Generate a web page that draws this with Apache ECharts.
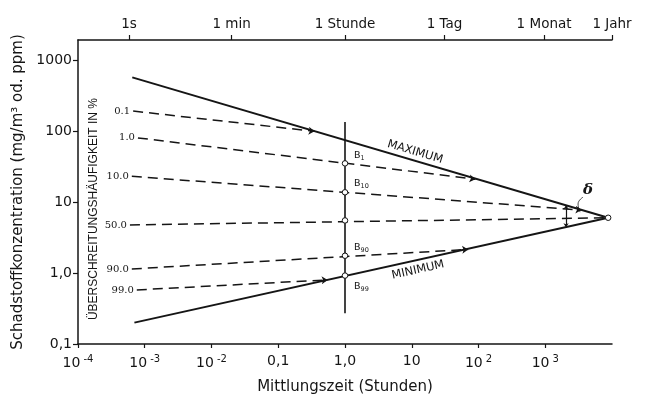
<!DOCTYPE html>
<html><head><meta charset="utf-8">
<script src="https://cdn.jsdelivr.net/npm/echarts@6.0.0/dist/echarts.min.js"></script>
<style>html,body{margin:0;padding:0;background:#fff}#c{width:648px;height:403px}</style>
</head><body><div id="c"></div>
<script>
// ---- tick values / labels ----
const xTicks = [1e-4, 1e-3, 1e-2, 0.1, 1, 10, 100, 1000];
const xTickLabels = ['10{s|-4}', '10{s|-3}', '10{s|-2}', '0,1', '1,0', '10', '10{s|2}', '10{s|3}'];
const yTicks = [0.1, 1, 10, 100, 1000];
const yTickLabels = ['0,1', '1,0', '10', '100', '1000'];
const topTicks = [5.8e-4, 0.02, 1, 31, 960, 10000];
const topTickLabels = ['1s', '1 min', '1 Stunde', '1 Tag', '1 Monat', '1 Jahr'];

// ---- envelope lines ----
const maximumLine = [[6.5e-4, 570], [8760, 6]];
const minimumLine = [[7e-4, 0.2], [8760, 6]];
const hourLine = [[1, 0.27], [1, 134]];

// ---- exceedance-frequency lines (percent) ----
const pctNames = ['0.1', '1.0', '10.0', '50.0', '90.0', '99.0'];
const pctLines = [
  [[6.7e-4, 191], [0.35, 99]],
  [[7.9e-4, 80], [90, 21]],
  [[6.4e-4, 23], [3500, 7.7]],
  [[6.0e-4, 4.75], [8760, 6]],
  [[6.4e-4, 1.14], [70, 2.15]],
  [[7.6e-4, 0.577], [0.55, 0.80]]
];
const pctArrow = [true, true, true, false, true, true];

// ---- points on the 1-hour line and convergence ----
const bPoints = [[1, 35], [1, 13.7], [1, 5.5], [1, 1.75], [1, 0.92], [8760, 6]];
const bLabels = [
  {pos: [1, 35], text: 'B{sub|1}', off: [4, -8]},
  {pos: [1, 13.7], text: 'B{sub|10}', off: [4, -9]},
  {pos: [1, 1.75], text: 'B{sub|90}', off: [4, -8]},
  {pos: [1, 0.92], text: 'B{sub|99}', off: [4, 11]}
];
const deltaMeasure = [[2050, 9.0], [2050, 4.4]];
const deltaLeader = [[3680, 11.7], [3100, 9.4], [3320, 7.2]];
const deltaPos = [4370, 14.8];
const maxLabelPos = [11.2, 50.6];
const minLabelPos = [12.4, 1.1];
const sideLabelPos = [1.74e-4, 7.96];

const ink = '#151515';
function fmt(ticks, labels) {
  return function (v) {
    for (let i = 0; i < ticks.length; i++) {
      if (Math.abs(Math.log10(ticks[i]) - Math.log10(v)) < 1e-6) return labels[i];
    }
    return '';
  };
}
const font = 'DejaVu Sans';

const series = [];
series.push({type: 'line', xAxisIndex: 0, yAxisIndex: 0, data: maximumLine, symbol: 'none', silent: true,
  lineStyle: {color: ink, width: 2}, z: 5});
series.push({type: 'line', xAxisIndex: 0, yAxisIndex: 0, data: minimumLine, symbol: 'none', silent: true,
  lineStyle: {color: ink, width: 2}, z: 5});
series.push({type: 'line', xAxisIndex: 0, yAxisIndex: 0, data: hourLine, symbol: 'none', silent: true,
  lineStyle: {color: ink, width: 1.6}, z: 5});
series.push({type: 'lines', coordinateSystem: 'cartesian2d', xAxisIndex: 0, yAxisIndex: 0, silent: true,
  data: pctLines.map((c, i) => ({coords: c, symbol: ['none', pctArrow[i] ? 'arrow' : 'none']})),
  symbolSize: 6,
  lineStyle: {color: ink, width: 1.5, type: [10, 6], opacity: 1}, z: 4});
series.push({type: 'lines', coordinateSystem: 'cartesian2d', xAxisIndex: 0, yAxisIndex: 0, silent: true,
  data: [{coords: deltaMeasure}], symbol: ['arrow', 'arrow'], symbolSize: 4,
  lineStyle: {color: ink, width: 1.2, opacity: 1}, z: 4});
series.push({type: 'line', xAxisIndex: 0, yAxisIndex: 0, data: deltaLeader, symbol: 'none', smooth: true, silent: true,
  lineStyle: {color: ink, width: 0.8}, z: 4});
series.push({type: 'scatter', xAxisIndex: 0, yAxisIndex: 0, data: bPoints, symbol: 'circle', symbolSize: 5.5, silent: true,
  itemStyle: {color: '#fff', borderColor: ink, borderWidth: 1, opacity: 1}, z: 8});
// text labels
const textData = [];
pctLines.forEach((c, i) => textData.push({value: c[0], label: {show: true, formatter: pctNames[i], position: 'left', distance: 3,
  fontFamily: 'DejaVu Serif', fontSize: 10, color: ink}}));
bLabels.forEach(b => textData.push({value: b.pos, label: {show: true, formatter: b.text, position: 'right', offset: b.off,
  fontFamily: font, fontSize: 9.5, color: ink, rich: {sub: {fontSize: 6.5, verticalAlign: 'bottom', padding: [6, 0, 0, 0], fontFamily: font, color: ink}}}}));
textData.push({value: maxLabelPos, label: {show: true, formatter: 'MAXIMUM', position: 'inside', rotate: -16.5,
  fontFamily: font, fontSize: 11.5, color: ink}});
textData.push({value: minLabelPos, label: {show: true, formatter: 'MINIMUM', position: 'inside', rotate: 12.5,
  fontFamily: font, fontSize: 11.5, color: ink}});
textData.push({value: sideLabelPos, label: {show: true, formatter: 'ÜBERSCHREITUNGSHÄUFIGKEIT IN %', position: 'inside', rotate: 90,
  fontFamily: 'Liberation Sans', fontSize: 12, color: ink}});
textData.push({value: deltaPos, label: {show: true, formatter: 'δ', position: 'inside',
  fontFamily: 'DejaVu Serif', fontStyle: 'italic', fontWeight: 'bold', fontSize: 15, color: ink}});
series.push({type: 'scatter', xAxisIndex: 0, yAxisIndex: 0, data: textData, symbol: 'circle', symbolSize: 0, silent: true,
  itemStyle: {opacity: 1}, z: 9});

const chart = echarts.init(document.getElementById('c'), null, {renderer: 'canvas'});
chart.setOption({
  animation: false,
  backgroundColor: '#fff',
  grid: {left: 78, right: 36, top: 40, bottom: 59, containLabel: false},
  xAxis: [{
    type: 'log', logBase: 10, min: 1e-4, max: 1e4, position: 'bottom',
    name: 'Mittlungszeit (Stunden)', nameLocation: 'middle', nameGap: 36,
    nameTextStyle: {fontFamily: font, fontSize: 15, color: ink},
    axisLine: {show: true, lineStyle: {color: ink, width: 1.5}},
    axisTick: {show: true, length: 4, customValues: xTicks, lineStyle: {color: ink, width: 1.2}},
    axisLabel: {customValues: xTicks, formatter: fmt(xTicks, xTickLabels), margin: 10,
      fontFamily: font, fontSize: 14, color: ink,
      rich: {s: {fontSize: 10, verticalAlign: 'top', padding: [0, 0, 8, 3], fontFamily: font, color: ink}}},
    splitLine: {show: false}
  }, {
    type: 'log', logBase: 10, min: 1e-4, max: 1e4, position: 'top',
    axisLine: {show: true, lineStyle: {color: ink, width: 1.5}},
    axisTick: {show: true, length: 5, customValues: topTicks, lineStyle: {color: ink, width: 1.2}},
    axisLabel: {customValues: topTicks, formatter: fmt(topTicks, topTickLabels), margin: 9,
      fontFamily: font, fontSize: 13.5, color: ink},
    splitLine: {show: false}
  }],
  yAxis: [{
    type: 'log', logBase: 10, min: 0.1, max: 1914,
    name: 'Schadstoffkonzentration (mg/m³ od. ppm)', nameLocation: 'middle', nameGap: 52,
    nameTextStyle: {fontFamily: font, fontSize: 15, color: ink},
    axisLine: {show: true, lineStyle: {color: ink, width: 1.5}},
    axisTick: {show: true, length: 5, customValues: yTicks, lineStyle: {color: ink, width: 1.2}},
    axisLabel: {customValues: yTicks, formatter: fmt(yTicks, yTickLabels), margin: 6,
      fontFamily: font, fontSize: 14, color: ink},
    splitLine: {show: false}
  }],
  series: series
});
</script></body></html>
